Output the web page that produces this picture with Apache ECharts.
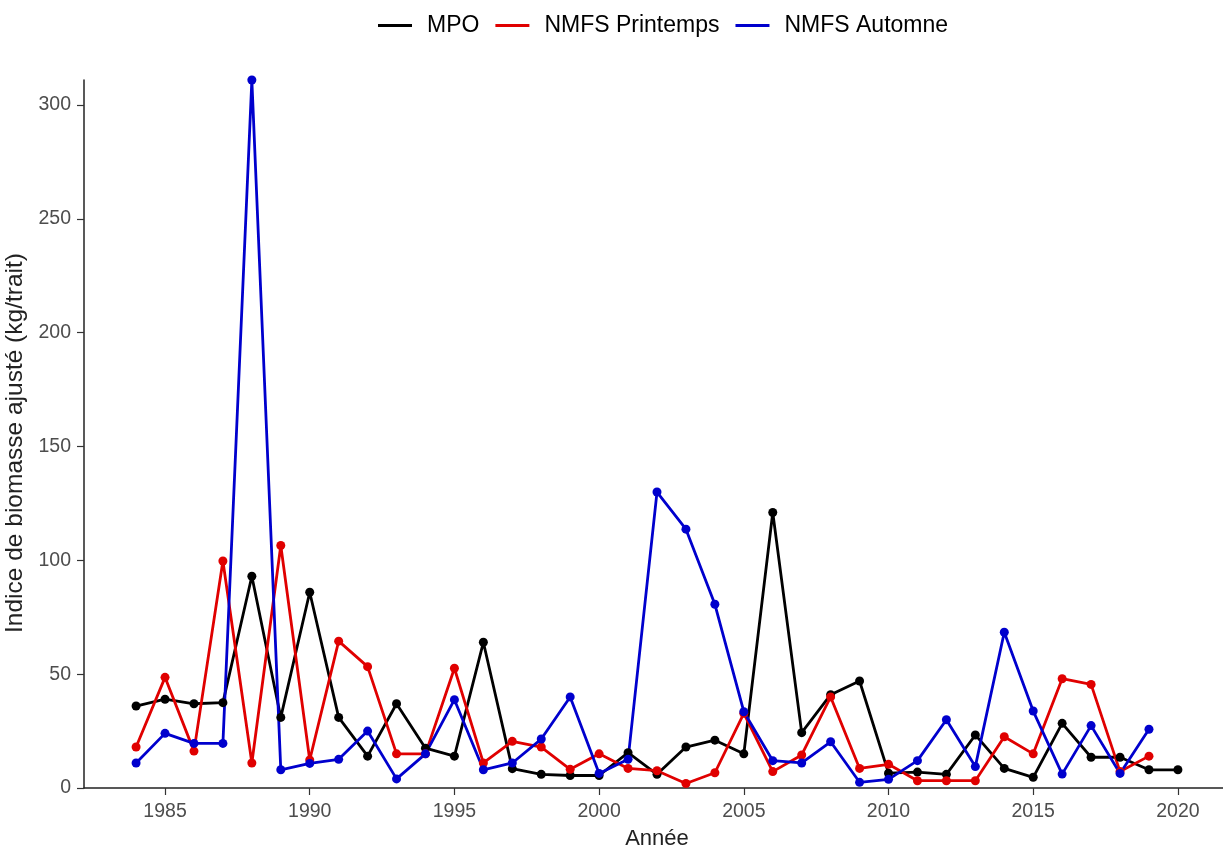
<!DOCTYPE html>
<html>
<head>
<meta charset="utf-8">
<script src="https://cdn.jsdelivr.net/npm/echarts@6/dist/echarts.min.js"></script>
<style>html,body{margin:0;padding:0;background:#fff;}#chart{width:1223px;height:848px;}</style>
</head>
<body>
<div id="chart"></div>
<script>
var yearsMPO = [1984,1985,1986,1987,1988,1989,1990,1991,1992,1993,1994,1995,1996,1997,1998,1999,2000,2001,2002,2003,2004,2005,2006,2007,2008,2009,2010,2011,2012,2013,2014,2015,2016,2017,2018,2019,2020];
var yearsNMFS = [1984,1985,1986,1987,1988,1989,1990,1991,1992,1993,1994,1995,1996,1997,1998,1999,2000,2001,2002,2003,2004,2005,2006,2007,2008,2009,2010,2011,2012,2013,2014,2015,2016,2017,2018,2019];
var mpo = [36,39,37,37.5,93,31,86,31,14,37,17.5,14,64,8.5,6,5.5,5.5,15.5,6,18,21,15,121,24.3,41,47,6.5,7,6,23.3,8.6,4.7,28.4,13.5,13.5,8,8];
var nmfsPrintemps = [18,48.6,16.2,99.7,11,106.5,12.3,64.5,53.3,15,15,52.6,11,20.5,18,8.2,15,8.6,7.6,2,6.7,32.8,7.2,14.5,40,8.6,10.4,3.2,3.2,3.2,22.5,15,48,45.5,7.2,14];
var nmfsAutomne = [11,24,19.6,19.6,311,8,10.8,12.6,25,4,15,38.8,8,11,21.5,40,6.4,12.6,130,113.7,80.7,33.5,12,11,20.3,2.5,3.8,12,30,9.4,68.4,33.8,6.1,27.4,6.4,25.8];
var xTicks = [1985,1990,1995,2000,2005,2010,2015,2020];
var yTicks = [0,50,100,150,200,250,300];
var seriesNames = ['MPO','NMFS Printemps','NMFS Automne'];
var colors = ['#000000','#e00000','#0000cd'];

function pairs(xs, ys){ return xs.map(function(x,i){ return [x, ys[i]]; }); }

var FONT = 'Liberation Sans, Arial, sans-serif';
var chart = echarts.init(document.getElementById('chart'), null, {renderer:'canvas'});
function mk(name, data, color){
  return {
    name: name, type: 'line', data: data, clip: true,
    symbol: 'circle', symbolSize: 9, showSymbol: true,
    lineStyle: {color: color, width: 2.8},
    itemStyle: {color: color},
    emphasis: {disabled: true},
    animation: false
  };
}
chart.setOption({
  animation: false,
  color: colors,
  legend: {
    left: 373, top: 9,
    icon: 'rect', itemWidth: 34, itemHeight: 3, itemGap: 16,
    textStyle: {fontFamily: FONT, fontSize: 23, color: '#000', padding: [0,0,0,10]},
    data: seriesNames
  },
  grid: {left: 84, right: -7, top: 80, bottom: 60, containLabel: false, outerBoundsMode: 'none'},
  xAxis: {
    type: 'value', min: 1982.2, max: 2021.8,
    name: 'Année', nameLocation: 'middle', nameGap: 40,
    nameTextStyle: {fontFamily: FONT, fontSize: 22, color: '#222'},
    axisLine: {show: true, onZero: false, lineStyle: {color: '#222', width: 1.5}},
    axisTick: {show: true, length: 7, customValues: xTicks, lineStyle: {color: '#333', width: 1.2}},
    axisLabel: {customValues: xTicks, margin: 14, fontFamily: FONT, fontSize: 19.5, color: '#4d4d4d', formatter: function(v){ return String(v); }},
    splitLine: {show: false}
  },
  yAxis: {
    type: 'value', min: 0, max: 311,
    name: 'Indice de biomasse ajusté (kg/trait)', nameLocation: 'middle', nameGap: 44, nameRotate: 90,
    nameTextStyle: {fontFamily: FONT, fontSize: 24.5, color: '#222', padding: [0,18,0,0]},
    axisLine: {show: true, lineStyle: {color: '#222', width: 1.5}},
    axisTick: {show: true, length: 7, customValues: yTicks, lineStyle: {color: '#333', width: 1.2}},
    axisLabel: {customValues: yTicks, margin: 13, fontFamily: FONT, fontSize: 19.5, color: '#4d4d4d'},
    splitLine: {show: false}
  },
  series: [
    mk(seriesNames[0], pairs(yearsMPO, mpo), colors[0]),
    mk(seriesNames[1], pairs(yearsNMFS, nmfsPrintemps), colors[1]),
    mk(seriesNames[2], pairs(yearsNMFS, nmfsAutomne), colors[2])
  ]
});
</script>
</body>
</html>
